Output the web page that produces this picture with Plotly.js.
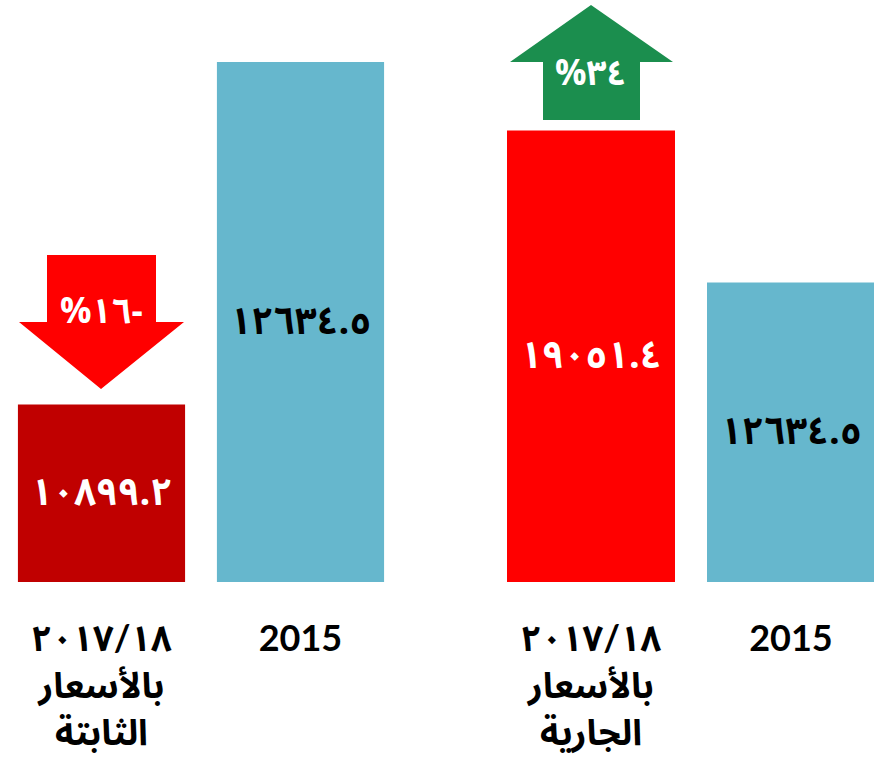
<!DOCTYPE html>
<html>
<head>
<meta charset="utf-8">
<script src="https://cdn.plot.ly/plotly-3.0.1.min.js"></script>
<style>html,body{margin:0;padding:0;background:#fff;}#chart{width:874px;height:766px;}</style>
</head>
<body>
<div id="chart"></div>
<script>
// Data
const categoriesConstant = ['٢٠١٧/١٨<br>بالأسعار<br>الثابتة', '2015'];
const categoriesCurrent = ['٢٠١٧/١٨<br>بالأسعار<br>الجارية', '2015'];
const valuesConstant = [10899.2, 12634.5];
const valuesCurrent = [19051.4, 12634.5];
const labelsConstant = ['١٠٨٩٩.٢', '١٢٦٣٤.٥'];
const labelsCurrent = ['١٩٠٥١.٤', '١٢٦٣٤.٥'];
const changeLabels = ['%١٦-', '%٣٤'];
const constantAxisMin = 10000;

const W = 874, PH = 582;
const px = x => x / W;
const py = y => 1 - y / PH;

const arabicFont = 'Noto Sans Arabic, Noto Naskh Arabic, DejaVu Sans, sans-serif';
const tickFont = 'Lato, Noto Sans Arabic, DejaVu Sans, sans-serif';

const traces = [
  {
    type: 'bar', x: categoriesConstant,
    base: constantAxisMin, y: valuesConstant.map(v => v - constantAxisMin),
    text: labelsConstant, textposition: 'inside', insidetextanchor: 'middle',
    textangle: 0, constraintext: 'none',
    textfont: {family: arabicFont, size: 38, weight: 'bold', color: ['#ffffff', '#000000']},
    marker: {color: ['#C00000', '#66B7CD']},
    xaxis: 'x', yaxis: 'y', hoverinfo: 'none'
  },
  {
    type: 'bar', x: categoriesCurrent, y: valuesCurrent,
    text: labelsCurrent, textposition: 'inside', insidetextanchor: 'middle',
    textangle: 0, constraintext: 'none',
    textfont: {family: arabicFont, size: 38, weight: 'bold', color: ['#ffffff', '#000000']},
    marker: {color: ['#FF0000', '#66B7CD']},
    xaxis: 'x2', yaxis: 'y2', hoverinfo: 'none'
  }
];

function path(pts) {
  return 'M' + pts.map(p => px(p[0]) + ',' + py(p[1])).join(' L') + ' Z';
}

const shapes = [
  { // down arrow
    type: 'path', xref: 'paper', yref: 'paper', layer: 'above',
    path: path([[47,255],[156,255],[156,322],[184,322],[101,389],[19,322],[47,322]]),
    fillcolor: '#FF0000', line: {width: 0}
  },
  { // up arrow
    type: 'path', xref: 'paper', yref: 'paper', layer: 'above',
    path: path([[591,5],[673,62],[640,62],[640,120],[543,120],[543,62],[510,62]]),
    fillcolor: '#1B8E4E', line: {width: 0}
  }
];

const annotations = [
  {xref: 'paper', yref: 'paper', x: px(101), y: py(312), text: changeLabels[0], showarrow: false,
   font: {family: arabicFont, size: 35, weight: 'bold', color: '#ffffff'}, xanchor: 'center', yanchor: 'middle'},
  {xref: 'paper', yref: 'paper', x: px(591), y: py(74), text: changeLabels[1], showarrow: false,
   font: {family: arabicFont, size: 35, weight: 'bold', color: '#ffffff'}, xanchor: 'center', yanchor: 'middle'}
];

const xaxisCommon = {
  type: 'category', showgrid: false, zeroline: false, showline: false, ticks: '',
  ticklabelstandoff: 32,
  tickfont: {family: tickFont, size: 36, weight: 'bold', color: '#000000'}, fixedrange: true
};

const layout = {
  width: 874, height: 766,
  margin: {l: 0, r: 0, t: 0, b: 184, pad: 0},
  paper_bgcolor: '#ffffff', plot_bgcolor: '#ffffff',
  showlegend: false, bargap: 0.16,
  xaxis: Object.assign({}, xaxisCommon, {domain: [px(2), px(400)], range: [-0.5, 1.5], anchor: 'y'}),
  xaxis2: Object.assign({}, xaxisCommon, {domain: [px(491), 1], range: [-0.5, 1.415], anchor: 'y2'}),
  yaxis: {visible: false, range: [constantAxisMin, 12948.6], domain: [0, 1], anchor: 'x', fixedrange: true},
  yaxis2: {visible: false, range: [0, 24557], domain: [0, 1], anchor: 'x2', fixedrange: true},
  shapes: shapes, annotations: annotations
};

Plotly.newPlot('chart', traces, layout, {displayModeBar: false, staticPlot: true});
</script>
</body>
</html>
